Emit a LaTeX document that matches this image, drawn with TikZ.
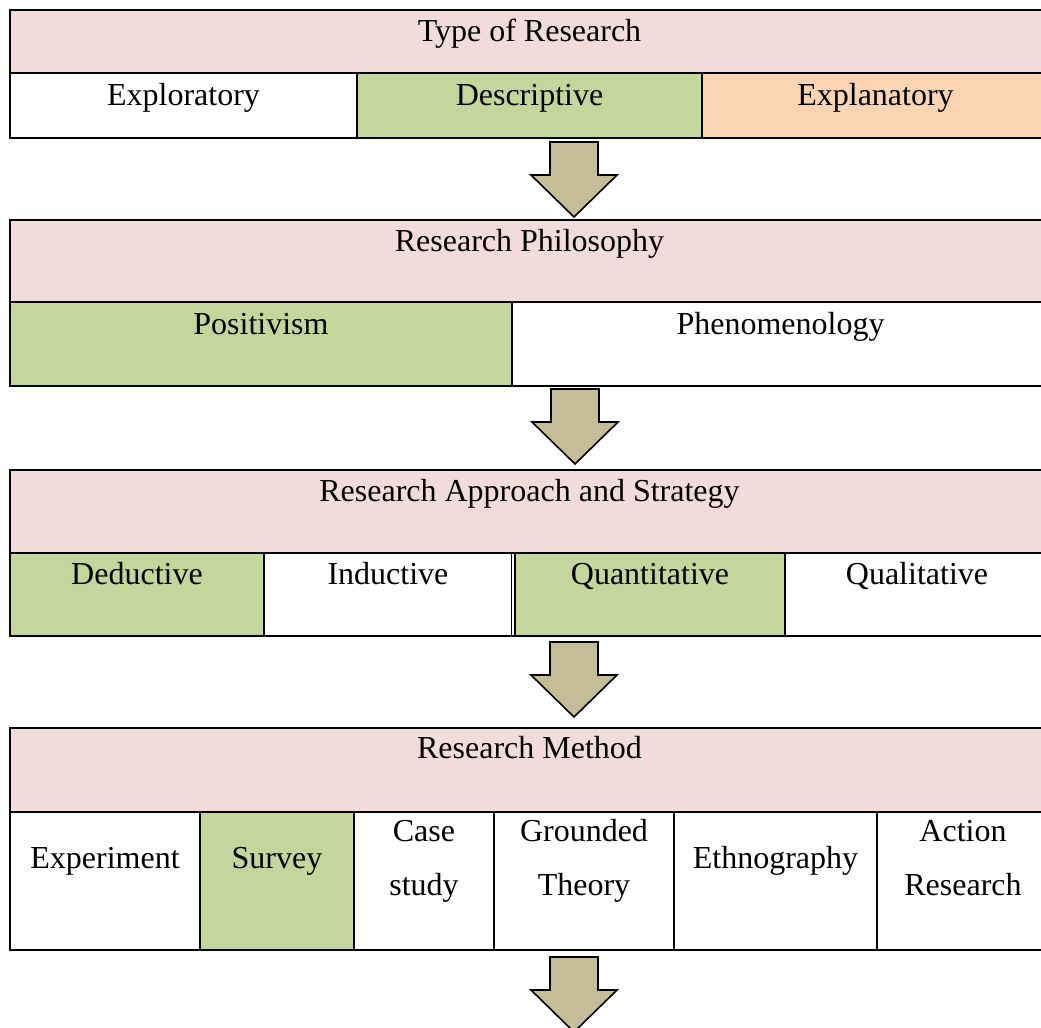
\documentclass[tikz,border=0pt]{standalone}
\usepackage{fontspec}
\setmainfont{Liberation Serif}

\definecolor{headpink}{HTML}{F2DCDB}
\definecolor{pickgreen}{HTML}{C3D69B}
\definecolor{peach}{HTML}{FBD4B4}
\definecolor{khaki}{HTML}{C4BD97}

\tikzset{
  cell/.style={anchor=base, inner sep=0pt, align=center,
    font=\fontsize{16}{27}\selectfont},
  grid/.style={line width=1pt},
  blockarrow/.pic={
    \draw[fill=khaki, line width=0.8pt, line join=miter]
      (-24,0) -- (24,0) -- (24,33) -- (43,33) -- (0,75)
      -- (-43,33) -- (-24,33) -- cycle;
  }
}

\begin{document}
\begin{tikzpicture}[x=0.5pt, y=-0.5pt]
  \useasboundingbox (0,0) rectangle (1041,1028);

  % type of research
  \fill[headpink] (10,10) rectangle (1049,73);
  \fill[pickgreen] (357,73) rectangle (702,138);
  \fill[peach] (702,73) rectangle (1049,138);
  \draw[grid] (10,10) rectangle (1049,138);
  \draw[grid] (10,73) -- (1049,73) (357,73) -- (357,138) (702,73) -- (702,138);
  \node[cell] (type) at (529.5,41) {Type of Research};
  \node[cell] (explor) at (183.5,105) {Exploratory};
  \node[cell] (descr) at (529.5,105) {Descriptive};
  \node[cell] (explan) at (875.5,105) {Explanatory};

  \coordinate (a1) at (574,142);
  \pic at (a1) {blockarrow};

  % philosophy
  \fill[headpink] (10,220) rectangle (1049,302);
  \fill[pickgreen] (10,302) rectangle (512,386);
  \draw[grid] (10,220) rectangle (1049,386);
  \draw[grid] (10,302) -- (1049,302) (512,302) -- (512,386);
  \node[cell] (philo) at (529.5,251) {Research Philosophy};
  \node[cell] (posit) at (261,334) {Positivism};
  \node[cell] (pheno) at (780.5,334) {Phenomenology};

  \coordinate (a2) at (575,389);
  \pic at (a2) {blockarrow};

  % approach and strategy
  \fill[headpink] (10,470) rectangle (1049,553);
  \fill[pickgreen] (10,553) rectangle (264,636);
  \fill[pickgreen] (515,553) rectangle (785,636);
  \draw[grid] (10,470) rectangle (1049,636);
  \draw[grid] (10,553) -- (1049,553) (264,553) -- (264,636) (785,553) -- (785,636);
  \draw[line width=0.6pt] (511.5,553) -- (511.5,636) (515,553) -- (515,636);
  \node[cell] (appr) at (529.5,501) {Research Approach and Strategy};
  \node[cell] (deduc) at (137,584) {Deductive};
  \node[cell] (induc) at (388,584) {Inductive};
  \node[cell] (quant) at (650,584) {Quantitative};
  \node[cell] (qual) at (917,584) {Qualitative};

  \coordinate (a3) at (574,642);
  \pic at (a3) {blockarrow};

  % method (two-line cells sit on the baseline of their last line)
  \fill[headpink] (10,728) rectangle (1049,812);
  \fill[pickgreen] (200,812) rectangle (354,950);
  \draw[grid] (10,728) rectangle (1049,950);
  \draw[grid] (10,812) -- (1049,812);
  \foreach \cx in {200,354,494,674,877}
    \draw[grid] (\cx,812) -- (\cx,950);
  \node[cell] (meth) at (529.5,758) {Research Method};
  \node[cell] (exper) at (105,868) {Experiment};
  \node[cell] (surv) at (277,868) {Survey};
  \node[cell] (case) at (424,895) {Case\\study};
  \node[cell] (ground) at (584,895) {Grounded\\Theory};
  \node[cell] (ethno) at (775.5,868) {Ethnography};
  \node[cell] (action) at (963,895) {Action\\Research};

  \coordinate (a4) at (574,957);
  \pic at (a4) {blockarrow};
\end{tikzpicture}
\end{document}
